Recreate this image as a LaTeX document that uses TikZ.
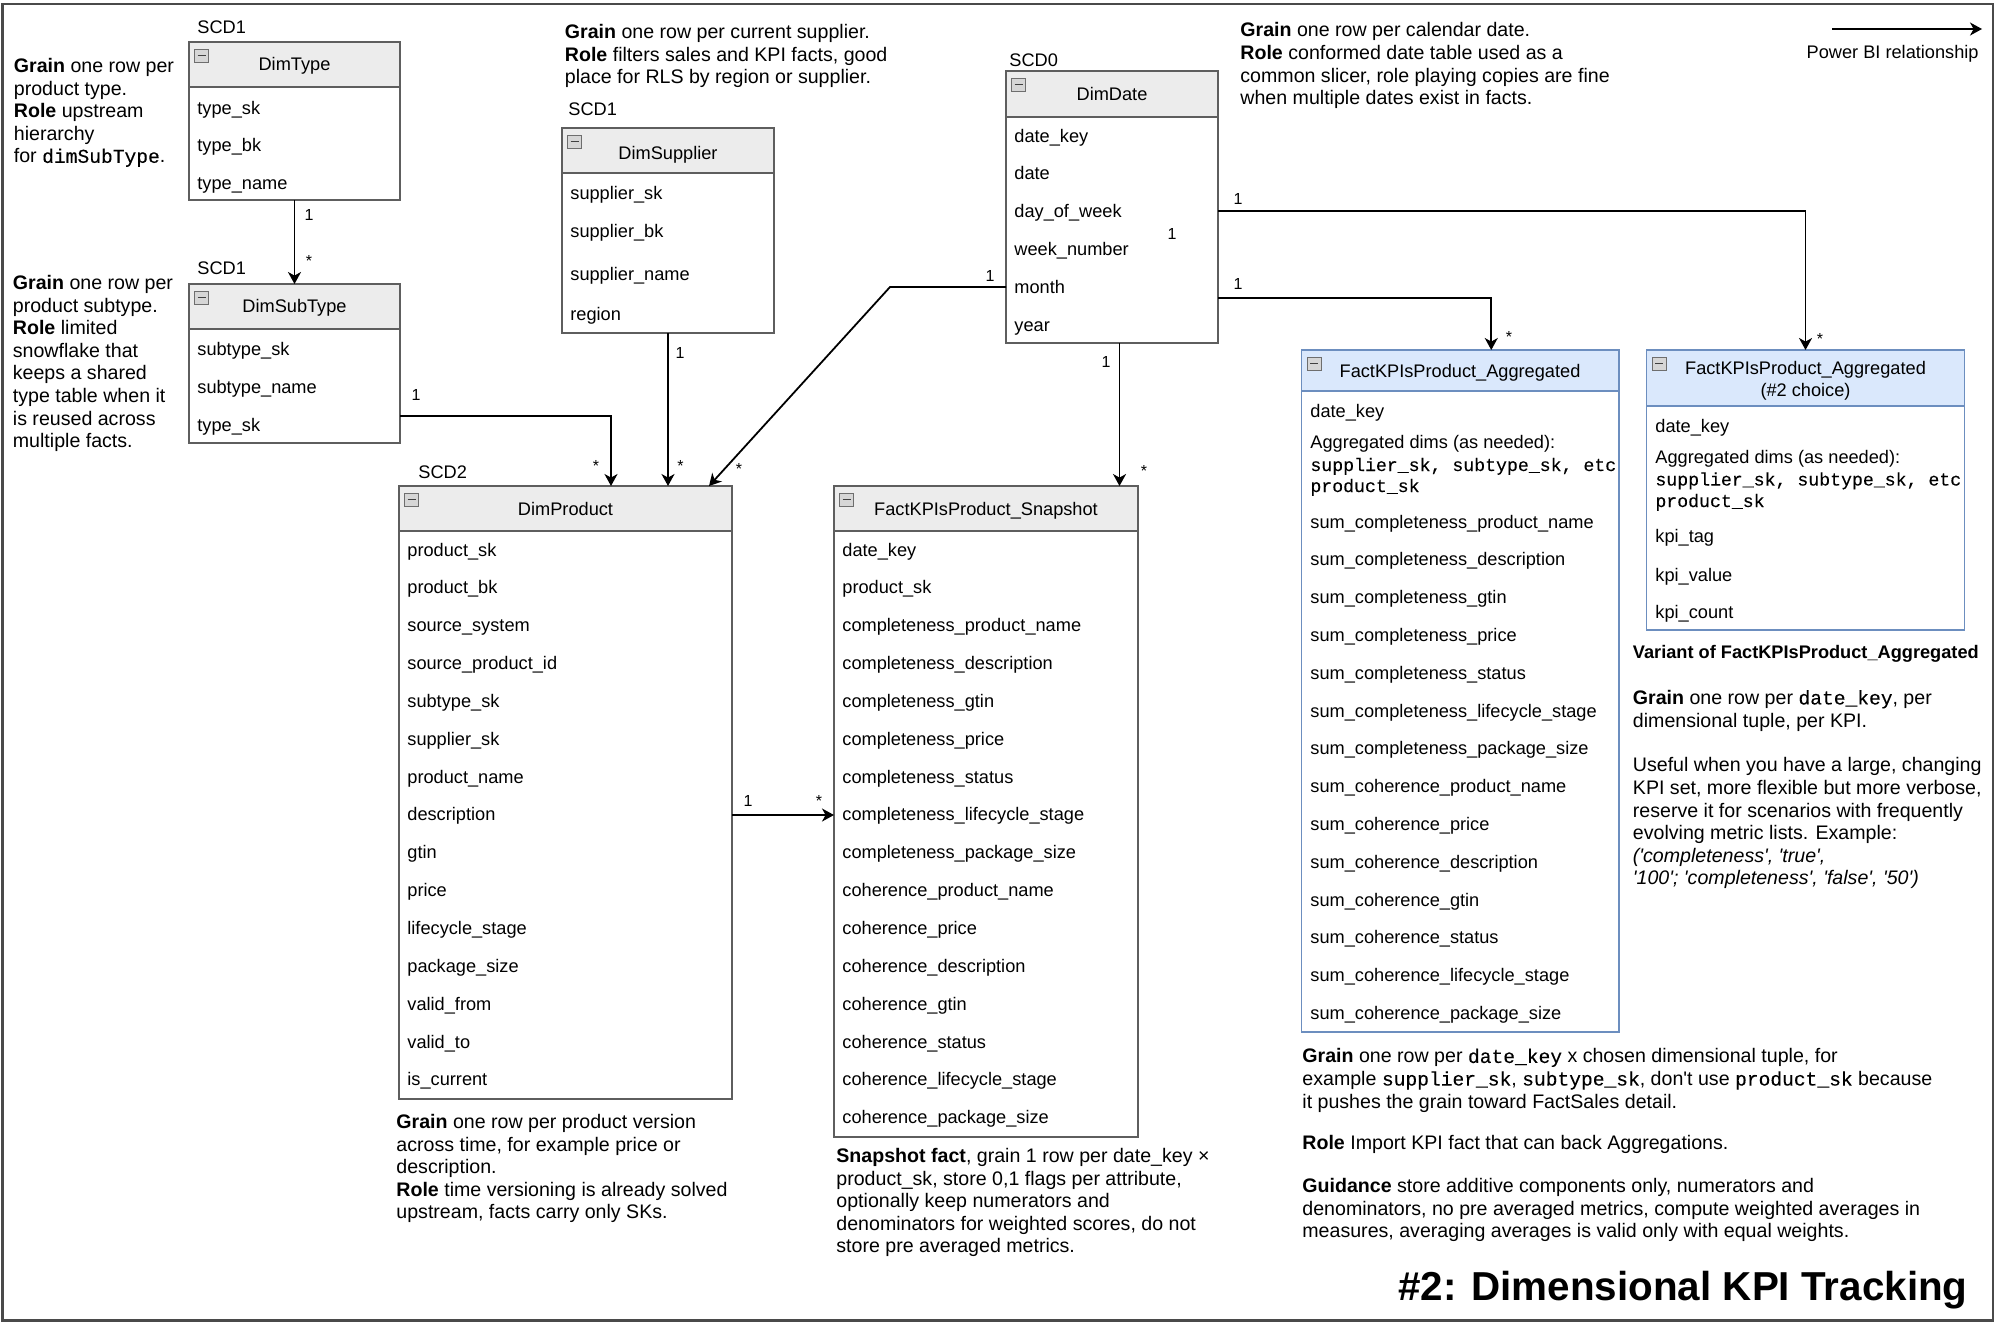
\documentclass[tikz,border=0pt]{standalone}
\usepackage{fontspec}
\setmainfont{Liberation Sans}
\newfontfamily\codefont[FakeBold=0.12]{Liberation Mono}
\usetikzlibrary{arrows.meta,calc}
\definecolor{hdr}{HTML}{ECECEC}
\definecolor{bx}{HTML}{5E5E5E}
\definecolor{bhdr}{HTML}{DAE8FC}
\definecolor{bbx}{HTML}{6C8EBF}
\definecolor{icofill}{HTML}{D6D6D6}
\definecolor{icodraw}{HTML}{6E6E6E}
\definecolor{frm}{HTML}{4A4A4A}
\newcommand\bodyfont{\fontsize{9.8pt}{11.3pt}\selectfont}
\newcommand\rowfont{\fontsize{9.1pt}{10.5pt}\selectfont}
\newcommand\tstrut{\rule{0pt}{7.5pt}}
\newcommand\mcode[1]{{\codefont #1}}
\newcommand\sq{\textquotesingle}
% table box: name, x1, y1, x2, y2, y of header bottom, header fill, border colour
\newcommand\tbl[8]{%
  \fill[#7] (#2,#3) rectangle (#4,#6);
  \draw[#8, line width=0.8pt] (#2,#6) -- (#4,#6);
  \node[draw=#8, line width=0.8pt, inner sep=0pt, outer sep=0pt, anchor=north west,
        minimum width={(#4-#2)*0.5pt}, minimum height={(#5-#3)*0.5pt}] (#1) at (#2,#3) {};
  \draw[fill=icofill, draw=icodraw, line width=0.4pt] (#2+5.5,#3+7) rectangle ++(14,13);
  \draw[line width=0.9pt, black!75] (#2+8.5,#3+13.5) -- ++(8,0);
}
\begin{document}
\begin{tikzpicture}[x=0.5pt,y=-0.5pt,
  row/.style={anchor=base west,inner sep=0pt,font=\rowfont},
  ttl/.style={anchor=base,inner sep=0pt,font=\rowfont},
  note/.style={anchor=north west,inner sep=0pt,align=left,font=\bodyfont},
  lbl/.style={anchor=base,inner sep=0pt,font=\fontsize{8pt}{9pt}\selectfont},
  rel/.style={line width=0.9pt,-{Stealth[length=6pt,width=6.5pt,inset=1.8pt]}},
]
\useasboundingbox (0,0) rectangle (2000,1324);
\fill[white] (0,0) rectangle (2000,1324);
\draw[line width=1.3pt, frm] (2.5,4) rectangle (1993,1320.5);

% ---------------- DimType ----------------
\tbl{dimtype}{189}{42}{400}{200}{87}{hdr}{bx}
\node[ttl] (dimtype-t) at (294.5,70) {DimType};
\node[row] (dimtype-s) at (197,33) {SCD1};
\foreach \t [count=\i from 0] in {type\_sk,type\_bk,type\_name}
  \node[row] (dimtype-\i) at (197,{114+\i*37.5}) {\t};

% ---------------- DimSubType ----------------
\tbl{dimsub}{189}{284}{400}{443}{329}{hdr}{bx}
\node[ttl] (dimsub-t) at (294.5,312.5) {DimSubType};
\node[row] (dimsub-s) at (197,274) {SCD1};
\foreach \t [count=\i from 0] in {subtype\_sk,subtype\_name,type\_sk}
  \node[row] (dimsub-\i) at (197,{355+\i*38}) {\t};

% ---------------- DimSupplier ----------------
\tbl{dimsup}{562}{128}{774}{333}{173}{hdr}{bx}
\node[ttl] (dimsup-t) at (668,159) {DimSupplier};
\node[row] (dimsup-s) at (568,115) {SCD1};
\node[row] (dimsup-0) at (570,199) {supplier\_sk};
\node[row] (dimsup-1) at (570,237) {supplier\_bk};
\node[row] (dimsup-2) at (570,280) {supplier\_name};
\node[row] (dimsup-3) at (570,320) {region};

% ---------------- DimDate ----------------
\tbl{dimdate}{1006}{71}{1218}{343}{117}{hdr}{bx}
\node[ttl] (dimdate-t) at (1112,100) {DimDate};
\node[row] (dimdate-s) at (1009,66) {SCD0};
\foreach \t [count=\i from 0] in {date\_key,date,day\_of\_week,week\_number,month,year}
  \node[row] (dimdate-\i) at (1014,{142+\i*37.8}) {\t};

% ---------------- DimProduct ----------------
\tbl{dimprod}{399}{486}{732}{1099}{531}{hdr}{bx}
\node[ttl] (dimprod-t) at (565.5,515) {DimProduct};
\node[row] (dimprod-s) at (418,478) {SCD2};
\foreach \t [count=\i from 0] in {product\_sk,product\_bk,source\_system,source\_product\_id,subtype\_sk,supplier\_sk,product\_name,description,gtin,price,lifecycle\_stage,package\_size,valid\_from,valid\_to,is\_current}
  \node[row] (dimprod-\i) at (407,{556+\i*37.85}) {\t};

% ---------------- Snapshot fact ----------------
\tbl{snap}{834}{486}{1138}{1137}{531}{hdr}{bx}
\node[ttl] (snap-t) at (986,515) {FactKPIsProduct\_Snapshot};
\foreach \t [count=\i from 0] in {date\_key,product\_sk,completeness\_product\_name,completeness\_description,completeness\_gtin,completeness\_price,completeness\_status,completeness\_lifecycle\_stage,completeness\_package\_size,coherence\_product\_name,coherence\_price,coherence\_description,coherence\_gtin,coherence\_status,coherence\_lifecycle\_stage,coherence\_package\_size}
  \node[row] (snap-\i) at (842,{556+\i*37.85}) {\t};

% ---------------- Aggregated fact ----------------
\tbl{agg}{1301.5}{350}{1619}{1032}{391}{bhdr}{bbx}
\node[ttl] (agg-t) at (1460,377) {FactKPIsProduct\_Aggregated};
\node[row] (agg-a) at (1310,417) {date\_key};
\node[row] (agg-b) at (1310,448.5) {Aggregated dims (as needed):};
\node[row] (agg-c) at (1310,471) {\mcode{supplier\_sk, subtype\_sk, etc}};
\node[row] (agg-d) at (1310,492) {\mcode{product\_sk}};
\foreach \t [count=\i from 0] in {sum\_completeness\_product\_name,sum\_completeness\_description,sum\_completeness\_gtin,sum\_completeness\_price,sum\_completeness\_status,sum\_completeness\_lifecycle\_stage,sum\_completeness\_package\_size,sum\_coherence\_product\_name,sum\_coherence\_price,sum\_coherence\_description,sum\_coherence\_gtin,sum\_coherence\_status,sum\_coherence\_lifecycle\_stage,sum\_coherence\_package\_size}
  \node[row] (agg-\i) at (1310,{528+\i*37.8}) {\t};

% ---------------- Aggregated fact, #2 choice ----------------
\tbl{aggb}{1646.5}{350}{1964.5}{630}{406}{bhdr}{bbx}
\node[ttl] (aggb-t1) at (1805.5,374) {FactKPIsProduct\_Aggregated};
\node[ttl] (aggb-t2) at (1805.5,396) {(\#2 choice)};
\node[row] (aggb-a) at (1655,432.5) {date\_key};
\node[row] (aggb-b) at (1655,463.5) {Aggregated dims (as needed):};
\node[row] (aggb-c) at (1655,485.5) {\mcode{supplier\_sk, subtype\_sk, etc}};
\node[row] (aggb-d) at (1655,507) {\mcode{product\_sk}};
\node[row] (aggb-0) at (1655,542.5) {kpi\_tag};
\node[row] (aggb-1) at (1655,581) {kpi\_value};
\node[row] (aggb-2) at (1655,618) {kpi\_count};

% ---------------- notes ----------------
\node[note] (nA) at (13.5,57) {\tstrut\textbf{Grain} one row per\\product type.\\\textbf{Role} upstream\\hierarchy\\for \mcode{dimSubType}.};
\node[note] (nB) at (12.5,274) {\tstrut\textbf{Grain} one row per\\product subtype.\\\textbf{Role} limited\\snowflake that\\keeps a shared\\type table when it\\is reused across\\multiple facts.};
\node[note] (nC) at (564.5,23) {\tstrut\textbf{Grain} one row per current supplier.\\\textbf{Role} filters sales and KPI facts, good\\place for RLS by region or supplier.};
\node[note] (nD) at (1240,21.5) {\tstrut\textbf{Grain} one row per calendar date.\\\textbf{Role} conformed date table used as a\\common slicer, role playing copies are fine\\when multiple dates exist in facts.};
\node[note] (nE) at (396,1113) {\tstrut\textbf{Grain} one row per product version\\across time, for example price or\\description.\\\textbf{Role} time versioning is already solved\\upstream, facts carry only SKs.};
\node[note] (nF) at (836,1147) {\tstrut\textbf{Snapshot fact}, grain 1 row per date\_key ×\\product\_sk, store 0,1 flags per attribute,\\optionally keep numerators and\\denominators for weighted scores, do not\\store pre averaged metrics.};
\node[note] (nG1) at (1302,1047.5) {\tstrut\textbf{Grain} one row per \mcode{date\_key} x chosen dimensional tuple, for\\example \mcode{supplier\_sk}, \mcode{subtype\_sk}, don\sq t use \mcode{product\_sk} because\\it pushes the grain toward FactSales detail.};
\node[note] (nG2) at (1302,1134) {\tstrut\textbf{Role} Import KPI fact that can back Aggregations.};
\node[note] (nG3) at (1302,1177) {\tstrut\textbf{Guidance} store additive components only, numerators and\\denominators, no pre averaged metrics, compute weighted averages in\\measures, averaging averages is valid only with equal weights.};
\node[row, font=\rowfont\bfseries] (nH1) at (1632.5,658.5) {Variant of FactKPIsProduct\_Aggregated};
\node[note] (nH2) at (1632.5,689) {\tstrut\textbf{Grain} one row per \mcode{date\_key}, per\\dimensional tuple, per KPI.};
\node[note] (nH3) at (1632.5,756.5) {\tstrut Useful when you have a large, changing\\KPI set, more flexible but more verbose,\\reserve it for scenarios with frequently\\evolving metric lists. Example:\\\textit{(\sq completeness\sq, \sq true\sq,}\\\textit{\sq100\sq; \sq completeness\sq, \sq false\sq, \sq50\sq)}};

% ---------------- legend ----------------
\coordinate (lgA) at (1832,29);
\coordinate (lgB) at (1982,29);
\draw[rel] (lgA) -- (lgB);
\node[anchor=base east,inner sep=0pt,font=\rowfont] (lgT) at (1979,58) {Power BI relationship};

% ---------------- title ----------------
\node[anchor=base east,inner sep=0pt,font=\fontsize{20.2pt}{22pt}\selectfont\bfseries] (title) at (1968,1300) {\#2: Dimensional KPI Tracking};

% ---------------- relationships ----------------
\draw[rel] (dimtype.south) -- (dimsub.north);
\node[lbl] (c1a) at (309,220) {1};
\node[lbl] (c1b) at (309,266) {*};

\draw[rel] ($(dimsub.south east)+(0,-27)$) -| ($(dimprod.north west)+(212,0)$);
\node[lbl] (c2a) at (416,400) {1};
\node[lbl] (c2b) at (596,471) {*};

\draw[rel] (dimsup.south) -- (dimsup.south |- dimprod.north);
\node[lbl] (c3a) at (680,358) {1};
\node[lbl] (c3b) at (680.5,471) {*};

\draw[rel] ($(dimdate.north west)+(0,216)$) -- ++(-116,0) -- ($(dimprod.north west)+(310,0)$);
\node[lbl] (c4a) at (990,281) {1};
\node[lbl] (c4b) at (739,474) {*};

\draw[rel] ($(dimdate.south)+(7.5,0)$) -- ($(snap.north east)+(-18.5,0)$);
\node[lbl] (c5a) at (1106,367) {1};
\node[lbl] (c5b) at (1144,476) {*};

\draw[rel] ($(dimprod.north east)+(0,329)$) -- ($(snap.north west)+(0,329)$);
\node[lbl] (c6a) at (748,806) {1};
\node[lbl] (c6b) at (819,806) {*};

\draw[rel] ($(dimdate.north east)+(0,227)$) -| ($(agg.north)+(31,0)$);
\node[lbl] (c7a) at (1238,289) {1};
\node[lbl] (c7b) at (1509,342) {*};

\draw[rel] ($(dimdate.north east)+(0,140)$) -| (aggb.north);
\node[lbl] (c8a) at (1238,204) {1};
\node[lbl] (c8b) at (1820,344) {*};

\node[lbl] (c9) at (1172,239) {1};
\end{tikzpicture}
\end{document}
